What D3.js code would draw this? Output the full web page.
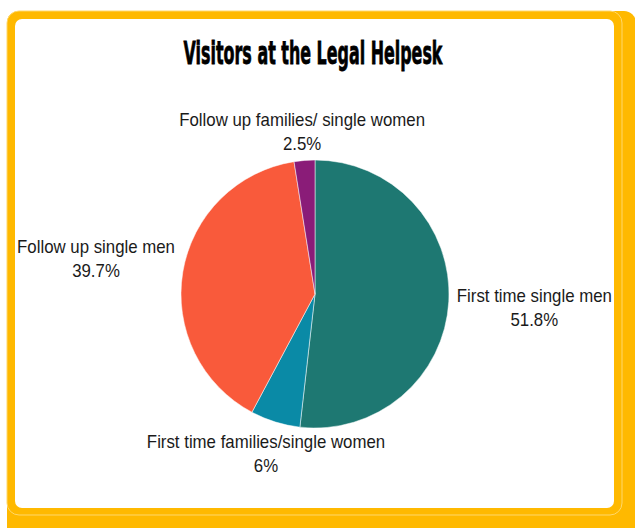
<!DOCTYPE html>
<html>
<head>
<meta charset="utf-8">
<script src="https://cdn.jsdelivr.net/npm/d3@7"></script>
<style>
  html, body { margin: 0; padding: 0; background: #ffffff; }
  svg { display: block; }
</style>
</head>
<body>
<script>
// Visitor categories at the legal helpdesk, in drawing order (clockwise from 12 o'clock)
const categories = [
  "First time single men",
  "First time families/single women",
  "Follow up single men",
  "Follow up families/ single women"
];
const shares = [51.8, 6, 39.7, 2.5];
const valueLabels = ["51.8%", "6%", "39.7%", "2.5%"];
const sliceColors = ["#1e7872", "#0a8aa6", "#f95a3b", "#8a1c78"];
const title = "Visitors at the Legal Helpesk";

const W = 635, H = 528;
const svg = d3.select("body").append("svg").attr("width", W).attr("height", H);

// Yellow card frame with an offset back panel
svg.append("rect").attr("x", 7).attr("y", 11).attr("width", 629).attr("height", 540)
  .attr("rx", 12).attr("fill", "#ffb900");
svg.append("rect").attr("x", 7).attr("y", 11).attr("width", 615).attr("height", 504)
  .attr("rx", 12).attr("fill", "#ffb900").attr("stroke", "#ffd86a").attr("stroke-width", 1);
svg.append("rect").attr("x", 15).attr("y", 19).attr("width", 599).attr("height", 489)
  .attr("rx", 7).attr("fill", "#ffffff");

// Title in a heavy, horizontally condensed face
const titleWidth = 259;
const tg = svg.append("g");
const tt = tg.append("text")
  .attr("x", 0).attr("y", 0)
  .attr("text-anchor", "middle")
  .attr("font-family", "'DejaVu Sans', sans-serif")
  .attr("font-weight", "bold")
  .attr("font-size", 32)
  .attr("fill", "#000")
  .attr("stroke", "#000")
  .attr("stroke-width", 0.8)
  .text(title);
const natural = tt.node().getComputedTextLength();
tg.attr("transform", `translate(313,64) scale(${titleWidth / natural},1)`);

// Pie
const cx = 315, cy = 294, R = 134;
const data = categories.map((c, i) => ({ name: c, value: shares[i], label: valueLabels[i], color: sliceColors[i] }));
const pie = d3.pie().value(d => d.value).sort(null);
const arc = d3.arc().innerRadius(0).outerRadius(R);
const arcs = pie(data);

const g = svg.append("g").attr("transform", `translate(${cx},${cy})`);
g.selectAll("path.slice").data(arcs).join("path")
  .attr("class", "slice")
  .attr("d", arc)
  .attr("fill", d => d.data.color)
  .attr("stroke", "#ffffff")
  .attr("stroke-width", 0.5);

// Data labels: each two-line box is centred on its slice's mid-angle ray,
// pushed out until its nearest edge clears the rim by a fixed gap
const edgeR = R + 8;
const lineH = 24;
const fontSize = 18;
const squeeze = 0.935;
const lbl = g.selectAll("g.lbl").data(arcs).join("g").attr("class", "lbl");
lbl.each(function (d) {
  const sel = d3.select(this);
  const inner = sel.append("g").attr("transform", `scale(${squeeze},1)`);
  const t = inner.append("text")
    .attr("text-anchor", "middle")
    .attr("font-family", "'Liberation Sans', Arial, sans-serif")
    .attr("font-size", fontSize)
    .attr("fill", "#1a1a1a");
  t.append("tspan").attr("x", 0).attr("y", 0).text(d.data.name);
  t.append("tspan").attr("x", 0).attr("y", lineH).text(d.data.label);
  const bb = this.getBBox();
  const a = (d.startAngle + d.endAngle) / 2;
  const s = Math.sin(a), c = Math.cos(a);
  const hw = bb.width / 2, hh = (lineH + 20) / 2;
  const reach = Math.min(Math.abs(s) > 1e-6 ? hw / Math.abs(s) : Infinity,
                         Math.abs(c) > 1e-6 ? hh / Math.abs(c) : Infinity);
  const dist = edgeR + reach;
  const bcx = dist * s, bcy = -dist * c + 2;
  // visual centre of the two lines sits ~6px above their mean baseline
  const dx = bcx - (bb.x + bb.width / 2);
  const dy = bcy - (lineH / 2 - 6);
  sel.attr("transform", `translate(${dx},${dy})`);
});
</script>
</body>
</html>
